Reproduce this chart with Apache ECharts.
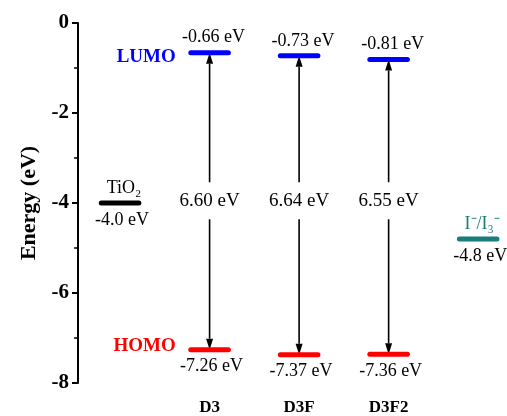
<!DOCTYPE html>
<html>
<head>
<meta charset="utf-8">
<script src="https://cdn.jsdelivr.net/npm/echarts@6/dist/echarts.min.js"></script>
<style>
  html, body { margin: 0; padding: 0; background: #fff; }
  #chart { width: 507px; height: 416px; }
</style>
</head>
<body>
<div id="chart"></div>
<script>
// energy levels (eV)
const molecules = ['D3', 'D3F', 'D3F2'];
const lumo = [-0.66, -0.73, -0.81];
const homo = [-7.26, -7.37, -7.36];
const gap = [6.60, 6.64, 6.55];
const tio2Level = -4.0;
const electrolyteLevel = -4.8;
const yTicks = [0, -2, -4, -6, -8];

const SERIF = '"Liberation Serif", "Times New Roman", serif';
const HALF = 0.21; // half width of a level bar, in x units

// x slots: 0 = TiO2, 1..3 = dyes, 4 = electrolyte
const levels = [];
levels.push({ x: 0, y: tio2Level, color: '#000', top: 'TiO\u2082', topColor: '#000', bottom: tio2Level.toFixed(1) + ' eV' });
molecules.forEach(function (m, i) {
  levels.push({ x: i + 1, y: lumo[i], color: '#0000ff', top: lumo[i].toFixed(2) + ' eV', topColor: '#000' });
  levels.push({ x: i + 1, y: homo[i], color: '#ff0000', bottom: homo[i].toFixed(2) + ' eV' });
});
levels.push({ x: 4, y: electrolyteLevel, color: '#1b7d7a', top: 'I\u207B/I\u2083\u207B', topColor: '#1b7d7a', bottom: electrolyteLevel.toFixed(1) + ' eV' });

function levelItem(params, api) {
  const d = levels[params.dataIndex];
  const a = api.coord([d.x - HALF, d.y]);
  const b = api.coord([d.x + HALF, d.y]);
  const cx = (a[0] + b[0]) / 2;
  const kids = [{
    type: 'line',
    shape: { x1: a[0], y1: a[1], x2: b[0], y2: b[1] },
    style: { stroke: d.color, lineWidth: 5, lineCap: 'round' }
  }];
  if (d.top) {
    kids.push({
      type: 'text', x: cx + 4, y: a[1] - 6,
      style: { text: d.top, fill: d.topColor, font: '18px ' + SERIF, align: 'center', verticalAlign: 'bottom' }
    });
  }
  if (d.bottom) {
    kids.push({
      type: 'text', x: cx + 2, y: a[1] + 8,
      style: { text: d.bottom, fill: '#000', font: '18px ' + SERIF, align: 'center', verticalAlign: 'top' }
    });
  }
  return { type: 'group', children: kids };
}

function arrowItem(params, api) {
  const i = params.dataIndex;
  const top = api.coord([i + 1, lumo[i]]);
  const bot = api.coord([i + 1, homo[i]]);
  const mid = api.coord([i + 1, -3.95]);
  const x = top[0];
  const headL = 11, headW = 3.5;
  return {
    type: 'group',
    children: [
      { type: 'line', shape: { x1: x, y1: top[1] + headL, x2: x, y2: bot[1] - headL }, style: { stroke: '#000', lineWidth: 1.6 } },
      { type: 'polygon', shape: { points: [[x, top[1]], [x - headW, top[1] + headL], [x + headW, top[1] + headL]] }, style: { fill: '#000' } },
      { type: 'polygon', shape: { points: [[x, bot[1]], [x - headW, bot[1] - headL], [x + headW, bot[1] - headL]] }, style: { fill: '#000' } },
      {
        type: 'text', x: x, y: mid[1],
        style: {
          text: gap[i].toFixed(2) + ' eV', fill: '#000', font: '19px ' + SERIF,
          align: 'center', verticalAlign: 'middle', backgroundColor: '#fff', padding: [9, 4]
        }
      }
    ]
  };
}

const chart = echarts.init(document.getElementById('chart'));
chart.setOption({
  backgroundColor: '#fff',
  animation: false,
  grid: { left: 78, right: 2, top: 23, bottom: 33, containLabel: false, outerBoundsMode: 'none' },
  xAxis: {
    type: 'value',
    min: -0.47,
    max: 4.3,
    splitLine: { show: false },
    axisLine: { show: false },
    axisTick: { show: false },
    axisLabel: {
      customValues: [1, 2, 3],
      formatter: function (v) { return molecules[Math.round(v) - 1] || ''; },
      color: '#000',
      fontFamily: SERIF,
      fontWeight: 'bold',
      fontSize: 17,
      margin: 16
    }
  },
  yAxis: {
    type: 'value',
    min: -8,
    max: 0,
    interval: 2,
    name: 'Energy (eV)',
    nameLocation: 'middle',
    nameGap: 38,
    nameTextStyle: { color: '#000', fontFamily: SERIF, fontWeight: 'bold', fontSize: 22 },
    splitLine: { show: false },
    axisLine: { show: true, onZero: false, lineStyle: { color: '#000', width: 2 } },
    axisTick: { show: true, length: 6, lineStyle: { color: '#000', width: 2 } },
    minorTick: { show: true, splitNumber: 2, length: 4, lineStyle: { color: '#000', width: 1.5 } },
    axisLabel: {
      color: '#000',
      fontFamily: SERIF,
      fontWeight: 'bold',
      fontSize: 21,
      margin: 9,
      formatter: function (v) { return yTicks.indexOf(v) >= 0 ? String(v) : ''; }
    }
  },
  series: [
    {
      type: 'custom',
      name: 'gap',
      z: 2,
      renderItem: arrowItem,
      data: molecules.map(function (m, i) { return [i + 1, lumo[i], homo[i]]; })
    },
    {
      type: 'custom',
      name: 'levels',
      z: 3,
      renderItem: levelItem,
      data: levels.map(function (d) { return [d.x, d.y]; })
    },
    {
      type: 'custom',
      name: 'orbitals',
      z: 3,
      renderItem: function (params, api) {
        const i = params.dataIndex;
        const p = api.coord([1 - HALF, api.value(1)]);
        return {
          type: 'text', x: p[0] - 15, y: p[1] + (i === 0 ? 4 : -4),
          style: {
            text: api.value(2) === 0 ? 'LUMO' : 'HOMO',
            fill: i === 0 ? '#0000ff' : '#ff0000',
            font: 'bold 19px ' + SERIF, align: 'right', verticalAlign: 'middle'
          }
        };
      },
      data: [[1, lumo[0], 0], [1, homo[0], 1]]
    }
  ]
});
</script>
</body>
</html>
